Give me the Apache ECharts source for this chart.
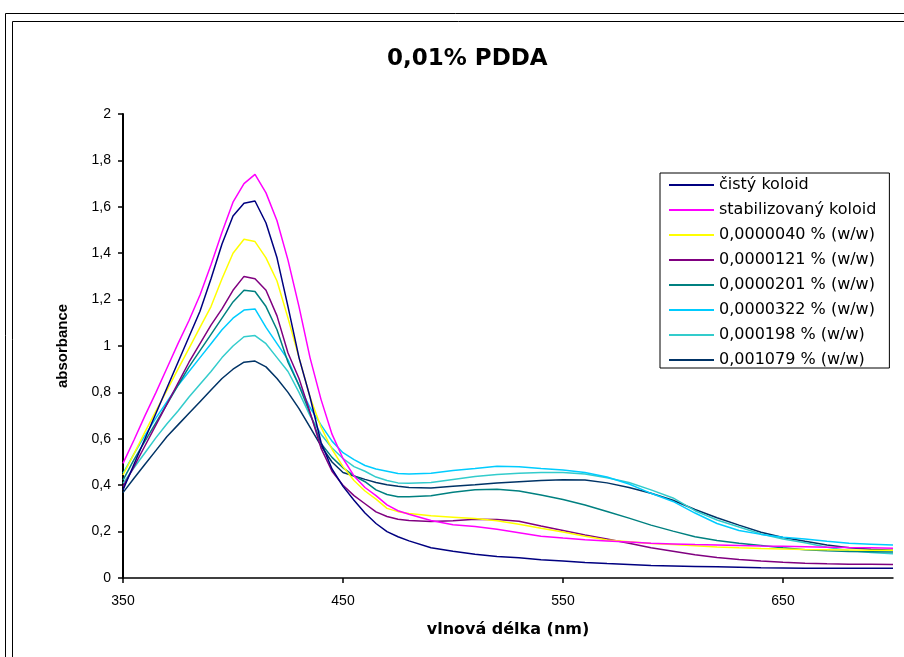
<!DOCTYPE html>
<html>
<head>
<meta charset="utf-8">
<script src="https://cdn.jsdelivr.net/npm/echarts@6/dist/echarts.min.js"></script>
<style>
  html, body { margin: 0; padding: 0; background: #fff; }
  #chart { width: 904px; height: 657px; }
</style>
</head>
<body>
<div id="chart"></div>
<script>
// Absorption spectra of the silver colloid with PDDA (wavelength in nm)
const wavelengths = [350,355,360,365,370,375,380,385,390,395,400,405,410,415,420,425,430,435,440,445,450,455,460,465,470,475,480,490,500,510,520,530,540,550,560,570,580,590,600,610,620,630,640,650,660,670,680,690,700];

const cistyKoloid = [0.379,0.49,0.60,0.71,0.82,0.93,1.04,1.15,1.29,1.44,1.56,1.615,1.625,1.53,1.38,1.17,0.95,0.78,0.585,0.47,0.395,0.335,0.28,0.235,0.20,0.178,0.16,0.13,0.115,0.102,0.093,0.087,0.079,0.073,0.067,0.062,0.058,0.054,0.052,0.05,0.048,0.046,0.044,0.043,0.042,0.042,0.042,0.042,0.042];
const stabilizovanyKoloid = [0.494,0.595,0.70,0.80,0.905,1.01,1.11,1.22,1.35,1.49,1.62,1.70,1.74,1.66,1.54,1.37,1.17,0.95,0.77,0.62,0.515,0.44,0.39,0.355,0.315,0.29,0.275,0.248,0.23,0.222,0.21,0.195,0.18,0.172,0.165,0.16,0.155,0.15,0.147,0.144,0.142,0.14,0.138,0.137,0.135,0.133,0.131,0.13,0.128];
const pdda0000040 = [0.444,0.535,0.63,0.72,0.81,0.90,0.99,1.08,1.17,1.29,1.40,1.46,1.45,1.38,1.28,1.12,0.95,0.78,0.65,0.555,0.48,0.42,0.375,0.34,0.30,0.286,0.278,0.268,0.262,0.256,0.247,0.232,0.214,0.198,0.18,0.164,0.156,0.149,0.144,0.139,0.134,0.13,0.127,0.125,0.123,0.122,0.121,0.12,0.12];
const pdda0000121 = [0.394,0.48,0.57,0.66,0.75,0.84,0.93,1.01,1.09,1.16,1.24,1.30,1.29,1.24,1.13,0.97,0.86,0.715,0.56,0.46,0.40,0.355,0.32,0.285,0.265,0.253,0.248,0.244,0.247,0.253,0.252,0.245,0.224,0.205,0.185,0.168,0.15,0.13,0.115,0.10,0.088,0.08,0.073,0.068,0.064,0.061,0.059,0.059,0.058];
const pdda0000201 = [0.422,0.51,0.59,0.67,0.75,0.83,0.91,0.98,1.05,1.12,1.19,1.24,1.235,1.17,1.07,0.93,0.83,0.71,0.58,0.52,0.475,0.44,0.415,0.38,0.36,0.35,0.35,0.355,0.37,0.38,0.383,0.375,0.358,0.338,0.315,0.287,0.258,0.228,0.202,0.178,0.162,0.15,0.14,0.13,0.122,0.117,0.114,0.113,0.112];
const pdda0000322 = [0.451,0.535,0.615,0.69,0.76,0.83,0.89,0.95,1.01,1.07,1.12,1.155,1.16,1.08,1.01,0.94,0.83,0.735,0.66,0.59,0.54,0.51,0.485,0.47,0.46,0.45,0.448,0.452,0.463,0.472,0.482,0.48,0.472,0.466,0.455,0.435,0.405,0.365,0.33,0.28,0.235,0.205,0.188,0.176,0.168,0.158,0.15,0.146,0.142];
const pdda000198 = [0.408,0.475,0.54,0.605,0.665,0.72,0.78,0.835,0.89,0.95,1.0,1.04,1.045,1.01,0.95,0.89,0.80,0.70,0.62,0.56,0.515,0.48,0.46,0.435,0.42,0.41,0.408,0.412,0.425,0.437,0.446,0.451,0.455,0.455,0.448,0.432,0.412,0.38,0.345,0.29,0.25,0.22,0.19,0.168,0.152,0.133,0.118,0.11,0.104];
const pdda001079 = [0.368,0.43,0.49,0.55,0.61,0.66,0.71,0.76,0.81,0.86,0.90,0.93,0.935,0.91,0.86,0.80,0.73,0.65,0.57,0.50,0.455,0.44,0.425,0.412,0.402,0.395,0.39,0.388,0.395,0.402,0.41,0.415,0.42,0.424,0.422,0.41,0.39,0.365,0.335,0.295,0.26,0.228,0.197,0.175,0.158,0.142,0.13,0.124,0.12];

const seriesNames = [
  'čistý koloid',
  'stabilizovaný koloid',
  '0,0000040 % (w/w)',
  '0,0000121 % (w/w)',
  '0,0000201 % (w/w)',
  '0,0000322 % (w/w)',
  '0,000198 % (w/w)',
  '0,001079 % (w/w)'
];
const seriesValues = [cistyKoloid, stabilizovanyKoloid, pdda0000040, pdda0000121, pdda0000201, pdda0000322, pdda000198, pdda001079];

const xTicks = [350, 450, 550, 650];

// line colours, one per series
const palette = ['#000080', '#FF00FF', '#FFFF00', '#800080', '#008080', '#00CCFF', '#33CCCC', '#003366'];

const chart = echarts.init(document.getElementById('chart'), null, { renderer: 'canvas' });

const series = seriesNames.map((name, k) => ({
  name: name,
  type: 'line',
  data: wavelengths.map((w, i) => [w, seriesValues[k][i]]),
  showSymbol: false,
  symbol: 'none',
  smooth: false,
  animation: false,
  color: palette[k],
  itemStyle: { color: palette[k] },
  lineStyle: { color: palette[k], width: 1.5 },
  z: 10 - k
}));

chart.setOption({
  backgroundColor: '#ffffff',
  animation: false,
  title: {
    text: '0,01% PDDA',
    left: 382,
    top: 43,
    textStyle: { fontFamily: 'DejaVu Sans', fontWeight: 'bold', fontSize: 23, color: '#000' }
  },
  graphic: [
    { type: 'rect', silent: true, shape: { x: 5.5, y: 13.5, width: 1000, height: 1000 },
      style: { fill: null, stroke: '#000', lineWidth: 1 } },
    { type: 'rect', silent: true, shape: { x: 12.5, y: 21.5, width: 1000, height: 1000 },
      style: { fill: null, stroke: '#000', lineWidth: 1 } }
  ],
  legend: {
    orient: 'vertical',
    left: 660,
    top: 173,
    padding: [4, 13, 0, 9],
    icon: 'rect',
    itemWidth: 45,
    itemHeight: 2,
    itemGap: 9,
    borderColor: '#000',
    borderWidth: 1,
    backgroundColor: '#fff',
    textStyle: { fontFamily: 'DejaVu Sans', fontSize: 16, color: '#000', lineHeight: 16 },
    data: seriesNames
  },
  grid: { left: 123, right: 11, top: 114, bottom: 79, containLabel: false },
  xAxis: {
    type: 'value',
    min: 350,
    max: 700,
    interval: 100,
    name: 'vlnová délka (nm)',
    nameLocation: 'middle',
    nameGap: 44,
    nameTextStyle: { fontFamily: 'DejaVu Sans', fontWeight: 'bold', fontSize: 16, color: '#000', verticalAlign: 'top' },
    axisLine: { onZero: false, lineStyle: { color: '#000', width: 1.5 } },
    axisTick: { show: true, length: 5, inside: false, customValues: xTicks, lineStyle: { color: '#000', width: 1.5 } },
    axisLabel: { customValues: xTicks, margin: 16, fontFamily: 'Liberation Sans, Arial, sans-serif', fontSize: 14, color: '#000' },
    splitLine: { show: false }
  },
  yAxis: {
    type: 'value',
    min: 0,
    max: 2,
    interval: 0.2,
    name: 'absorbance',
    nameLocation: 'middle',
    nameGap: 53,
    nameTextStyle: { fontFamily: 'Liberation Sans, Arial, sans-serif', fontWeight: 'bold', fontSize: 15, color: '#000' },
    axisLine: { show: true, lineStyle: { color: '#000', width: 2 } },
    axisTick: { show: true, length: 5, inside: false, lineStyle: { color: '#000', width: 1.5 } },
    axisLabel: {
      margin: 12,
      fontFamily: 'Liberation Sans, Arial, sans-serif',
      fontSize: 14,
      color: '#000',
      formatter: v => String(Math.round(v * 10) / 10).replace('.', ',')
    },
    splitLine: { show: false }
  },
  series: series
});
</script>
</body>
</html>
